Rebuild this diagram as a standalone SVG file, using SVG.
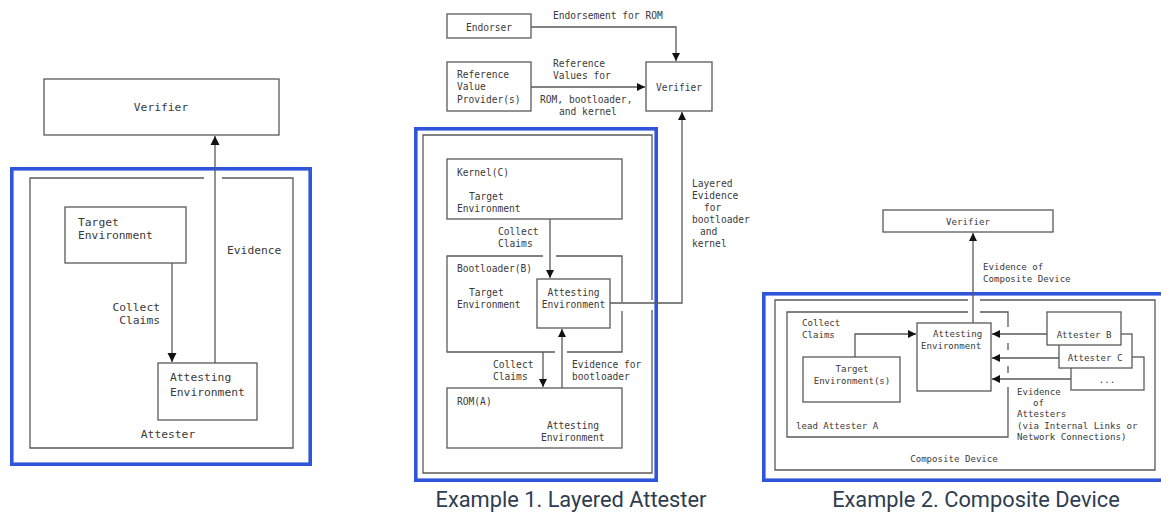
<svg xmlns="http://www.w3.org/2000/svg" width="1161" height="513" viewBox="0 0 1161 513">
<defs>
<style>
.bx{fill:#fff;stroke:#595959;stroke-width:1.3}
.ln{fill:none;stroke:#595959;stroke-width:1.3}
.blue{fill:none;stroke:#2f55db;stroke-width:3.6}
.t{font-family:"DejaVu Sans Mono","Liberation Mono",monospace;fill:#3a3a3a}
.tl{font-size:11.3px}
.tm{font-size:9.6px}
.tr{font-size:9.1px}
.c{text-anchor:middle}
.e{text-anchor:end}
.cap{font-family:Roboto,"Liberation Sans",sans-serif;font-size:21.8px;fill:#2e3d4f;text-anchor:middle}
</style>
<marker id="ahL" viewBox="0 0 10 10" refX="10" refY="5" markerUnits="userSpaceOnUse" markerWidth="9" markerHeight="10" orient="auto"><path d="M0,0 L10,5 L0,10 z" fill="#111"/></marker>
<marker id="ah" viewBox="0 0 10 10" refX="10" refY="5" markerUnits="userSpaceOnUse" markerWidth="8" markerHeight="8" orient="auto"><path d="M0,0 L10,5 L0,10 z" fill="#111"/></marker>
</defs>
<rect width="1161" height="513" fill="#fff"/>

<!-- ===== Left: basic attester ===== -->
<rect class="blue" x="11.8" y="168.8" width="298.4" height="295.4"/>
<g id="left-verifier"><rect class="bx" x="44" y="79" width="235" height="56"/><text class="t tl c" x="161" y="111">Verifier</text></g>
<g id="left-attester"><path class="ln" d="M204,178 H30 V448 H293 V178 H222"/><text class="t tl c" x="168" y="438">Attester</text></g>
<g id="left-target"><rect class="bx" x="65" y="207" width="121" height="56"/><text class="t tl" x="78" y="226">Target</text><text class="t tl" x="78" y="239">Environment</text></g>
<g id="left-attesting"><rect class="bx" x="158" y="363" width="99" height="57"/><text class="t tl" x="170" y="381">Attesting</text><text class="t tl" x="170" y="396">Environment</text></g>
<g id="left-connectors">
<line class="ln" x1="172" y1="263" x2="172" y2="362" marker-end="url(#ahL)"/>
<line class="ln" x1="215" y1="363" x2="215" y2="136" marker-end="url(#ahL)"/>
<text class="t tl e" x="160" y="311">Collect</text><text class="t tl e" x="160" y="324">Claims</text>
<text class="t tl" x="227" y="254">Evidence</text>
</g>

<!-- ===== Middle: layered attester ===== -->
<rect class="blue" x="415.8" y="128.8" width="240.4" height="351.4"/>
<g id="mid-endorser"><rect class="bx" x="447" y="14" width="84" height="24"/><text class="t tm c" x="489" y="30.5">Endorser</text></g>
<g id="mid-rvp"><rect class="bx" x="447" y="62" width="84" height="49"/><text class="t tm" x="457" y="77.5">Reference</text><text class="t tm" x="457" y="90">Value</text><text class="t tm" x="457" y="102.5">Provider(s)</text></g>
<g id="mid-verifier"><rect class="bx" x="646" y="62" width="66" height="49"/><text class="t tm c" x="679" y="90.5">Verifier</text></g>
<g id="mid-outer"><path class="ln" d="M652,300 V135 H423 V473 H652 V310"/></g>
<g id="mid-kernel"><rect class="bx" x="447" y="159" width="175" height="60"/><text class="t tm" x="457" y="175.5">Kernel(C)</text><text class="t tm" x="469" y="199.5">Target</text><text class="t tm" x="457" y="211.5">Environment</text></g>
<g id="mid-bootloader"><path class="ln" d="M543,256 H447 V352 H555 M567,352 H622 V311 M622,302 V256 H556"/><text class="t tm" x="457" y="271.5">Bootloader(B)</text><text class="t tm" x="469" y="295.5">Target</text><text class="t tm" x="457" y="307.5">Environment</text></g>
<g id="mid-attesting"><rect class="bx" x="537" y="279" width="73" height="49"/><text class="t tm c" x="573.5" y="295.5">Attesting</text><text class="t tm c" x="573.5" y="307.5">Environment</text></g>
<g id="mid-rom"><rect class="bx" x="447" y="388" width="175" height="60"/><text class="t tm" x="457" y="404.5">ROM(A)</text><text class="t tm" x="547" y="428.5">Attesting</text><text class="t tm" x="541" y="440.5">Environment</text></g>
<g id="mid-connectors">
<path class="ln" d="M531,27 H676 V61" marker-end="url(#ah)"/>
<line class="ln" x1="531" y1="87" x2="645" y2="87" marker-end="url(#ah)"/>
<line class="ln" x1="550" y1="219" x2="550" y2="278" marker-end="url(#ah)"/>
<path class="ln" d="M610,303 H682 V112" marker-end="url(#ah)"/>
<line class="ln" x1="543" y1="352" x2="543" y2="387" marker-end="url(#ah)"/>
<line class="ln" x1="562" y1="388" x2="562" y2="329" marker-end="url(#ah)"/>
<text class="t tm" x="553" y="18.5">Endorsement for ROM</text>
<text class="t tm" x="553" y="66.5">Reference</text><text class="t tm" x="553" y="78.5">Values for</text>
<text class="t tm" x="540" y="102.5">ROM, bootloader,</text><text class="t tm" x="559" y="114.5">and kernel</text>
<text class="t tm" x="692" y="186.5">Layered</text><text class="t tm" x="692" y="198.5">Evidence</text><text class="t tm" x="704" y="210.5">for</text><text class="t tm" x="692" y="222.5">bootloader</text><text class="t tm" x="700" y="234.5">and</text><text class="t tm" x="692" y="246.5">kernel</text>
<text class="t tm" x="498" y="234.5">Collect</text><text class="t tm" x="498" y="246.5">Claims</text>
<text class="t tm" x="493" y="367.5">Collect</text><text class="t tm" x="493" y="379.5">Claims</text>
<text class="t tm" x="572" y="367.5">Evidence for</text><text class="t tm" x="572" y="379.5">bootloader</text>
</g>
<text class="cap" x="571" y="507">Example 1. Layered Attester</text>

<!-- ===== Right: composite device ===== -->
<rect class="blue" x="763.8" y="293.8" width="405" height="186.4"/>
<g id="right-verifier"><rect class="bx" x="883" y="210" width="170" height="22"/><text class="t tr c" x="968" y="224.5">Verifier</text></g>
<g id="right-composite"><path class="ln" d="M968,300 H775 V470 H1155 V300 H980"/><text class="t tr c" x="954" y="462">Composite Device</text></g>
<g id="right-leadA"><path class="ln" d="M968,312 H787 V437 H1008 V387 M1008,327 V312 H980 M1008,343 V350 M1008,366 V373"/><text class="t tr" x="796" y="429">lead Attester A</text><text class="t tr" x="802" y="326">Collect</text><text class="t tr" x="802" y="338">Claims</text></g>
<g id="right-target"><rect class="bx" x="803" y="357" width="97" height="45"/><text class="t tr c" x="852" y="372">Target</text><text class="t tr c" x="852" y="383.5">Environment(s)</text></g>
<g id="right-attesting"><rect class="bx" x="917" y="323" width="74" height="68"/><text class="t tr" x="933" y="337">Attesting</text><text class="t tr" x="921" y="349">Environment</text></g>
<g id="right-more"><rect class="bx" x="1071" y="357" width="73" height="33"/><text class="t tr c" x="1107" y="383">...</text></g>
<g id="right-attesterC"><rect class="bx" x="1059" y="334" width="73" height="34"/><text class="t tr c" x="1095" y="360.5">Attester C</text></g>
<g id="right-attesterB"><rect class="bx" x="1047" y="312" width="74" height="33"/><text class="t tr c" x="1084" y="337.5">Attester B</text></g>
<g id="right-connectors">
<line class="ln" x1="973" y1="323" x2="973" y2="233" marker-end="url(#ah)"/>
<path class="ln" d="M855,357 V334 H916" marker-end="url(#ah)"/>
<line class="ln" x1="1047" y1="334" x2="992" y2="334" marker-end="url(#ah)"/>
<line class="ln" x1="1059" y1="358" x2="992" y2="358" marker-end="url(#ah)"/>
<line class="ln" x1="1071" y1="379" x2="992" y2="379" marker-end="url(#ah)"/>
<text class="t tr" x="983" y="270">Evidence of</text><text class="t tr" x="983" y="281.5">Composite Device</text>
<text class="t tr" x="1017" y="395">Evidence</text><text class="t tr" x="1033" y="405.5">of</text><text class="t tr" x="1017" y="416.5">Attesters</text><text class="t tr" x="1017" y="429">(via Internal Links or</text><text class="t tr" x="1017" y="440">Network Connections)</text>
</g>
<text class="cap" x="976" y="507">Example 2. Composite Device</text>
</svg>
